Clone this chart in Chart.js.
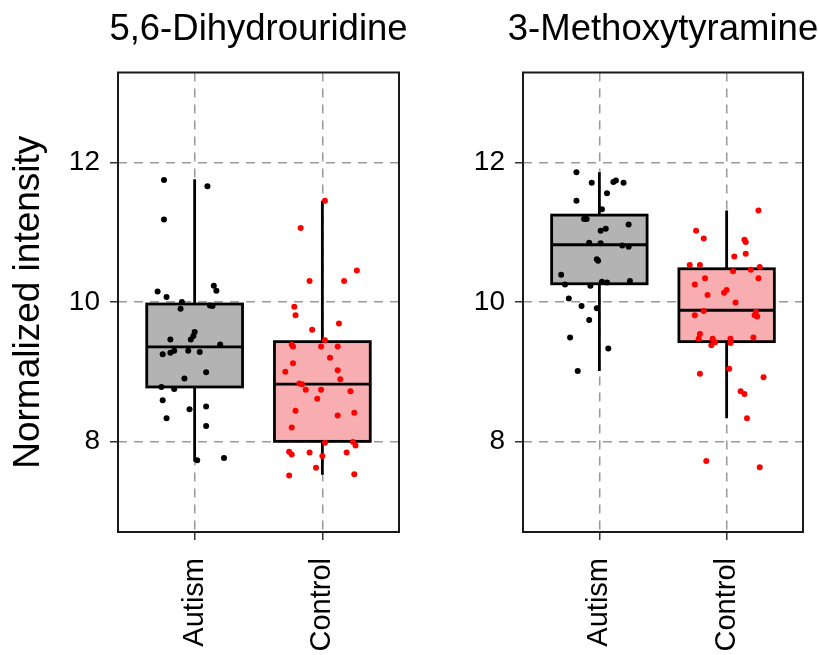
<!DOCTYPE html>
<html>
<head>
<meta charset="utf-8">
<title>Normalized intensity: Autism vs Control</title>
<script src="https://cdn.jsdelivr.net/npm/chart.js@4"></script>
<style>
  body { margin: 0; background: #fff; }
  #wrap { position: relative; width: 819px; height: 655px; }
  canvas { position: absolute; top: 0; }
</style>
</head>
<body>
<div id="wrap">
  <canvas id="dhuChart" width="410" height="655" style="left:0"></canvas>
  <canvas id="mtChart" width="409" height="655" style="left:410px"></canvas>
</div>
<script>
// Groups and tick values
const groups = ['Autism', 'Control'];
const yTicks = [8, 10, 12];

// 5,6-Dihydrouridine: points (value + horizontal jitter)
const dhuAutism = [11.75, 11.66, 11.18, 10.15, 10.07, 10.23, 10.16, 10.00, 9.90, 9.95, 9.94, 9.57, 9.51, 9.46, 9.46, 9.39,
  9.30, 9.27, 9.25, 9.30, 9.28, 8.99, 8.90, 8.78, 8.75, 8.59, 8.46, 8.50, 8.33, 8.22, 7.73, 7.76];
const dhuAutismJitter = [-0.24, 0.10, -0.24, -0.29, -0.22, 0.15, 0.17, -0.10, -0.11, 0.12, 0.14, 0.00, -0.01, -0.03, -0.19, 0.20,
  -0.16, -0.19, -0.25, -0.05, 0.04, 0.09, -0.08, -0.26, -0.16, -0.25, -0.04, 0.09, -0.22, 0.09, 0.02, 0.23];
const dhuControl = [11.45, 11.06, 10.45, 10.30, 10.30, 9.93, 9.81, 9.69, 9.60, 9.45, 9.39, 9.36, 9.36, 9.36, 9.20, 9.12,
  9.00, 9.02, 8.89, 8.83, 8.82, 8.74, 8.74, 8.72, 8.61, 8.44, 8.41, 8.37, 8.20, 7.98, 7.99, 7.94, 7.85, 7.81, 7.84, 7.79,
  7.84, 7.62, 7.51, 7.53];
const dhuControlJitter = [0.02, -0.17, 0.27, -0.10, 0.17, -0.22, -0.21, 0.13, -0.08, 0.02, -0.24, -0.23, -0.01, 0.12, 0.06, -0.23,
  -0.29, 0.12, 0.14, -0.18, -0.16, -0.13, -0.01, 0.22, -0.04, -0.21, 0.25, 0.12, -0.24, 0.02, 0.24, 0.26, -0.26, -0.24, -0.10, 0.00,
  0.19, -0.05, -0.26, 0.25];

// 5,6-Dihydrouridine: box statistics [Autism, Control]
const dhuLow = [7.71, 7.52];
const dhuQ1 = [8.78, 8.00];
const dhuMedian = [9.355, 8.82];
const dhuQ3 = [9.97, 9.43];
const dhuHigh = [11.76, 11.45];

// 3-Methoxytyramine: points
const mtAutism = [11.86, 11.71, 11.72, 11.74, 11.71, 11.56, 11.45, 11.33, 11.19, 11.19, 11.11, 11.05, 11.02, 10.85, 10.84, 10.81,
  10.79, 10.61, 10.59, 10.39, 10.25, 10.23, 10.29, 10.28, 10.30, 10.05, 9.94, 9.91, 9.74, 9.49, 9.33, 9.01];
const mtAutismJitter = [-0.18, -0.06, 0.11, 0.13, 0.19, 0.06, -0.18, 0.02, -0.12, -0.10, 0.23, 0.05, 0.01, -0.08, 0.01, 0.18,
  0.23, -0.02, -0.01, -0.30, -0.27, -0.07, 0.02, 0.06, 0.24, -0.24, -0.14, -0.02, -0.08, -0.23, 0.07, -0.17];
const mtControl = [11.31, 11.02, 10.91, 10.89, 10.86, 10.69, 10.65, 10.53, 10.53, 10.50, 10.46, 10.44, 10.34, 10.34, 10.25, 10.17,
  10.13, 10.10, 9.99, 9.87, 9.81, 9.86, 9.81, 9.79, 9.54, 9.47, 9.47, 9.42, 9.38, 9.47, 9.41, 9.49, 9.04, 8.97, 8.92, 8.72,
  8.68, 8.33, 7.72, 7.63];
const mtControlJitter = [0.25, -0.24, -0.18, 0.14, 0.15, 0.15, 0.06, -0.29, -0.21, 0.26, 0.19, 0.05, -0.17, 0.25, -0.25, 0.00,
  -0.02, -0.15, 0.07, -0.18, -0.25, 0.23, 0.22, 0.24, -0.21, -0.22, -0.11, -0.09, -0.12, 0.03, 0.03, 0.21, 0.02, -0.21, 0.29, 0.11,
  0.14, 0.16, -0.16, 0.26];

// 3-Methoxytyramine: box statistics [Autism, Control]
const mtLow = [9.01, 8.33];
const mtQ1 = [10.26, 9.43];
const mtMedian = [10.82, 9.88];
const mtQ3 = [11.245, 10.475];
const mtHigh = [11.86, 11.31];

const fontFamily = '"Liberation Sans", Arial, Helvetica, sans-serif';
Chart.defaults.font.family = fontFamily;
Chart.defaults.color = '#000';

const boxFill = ['#b3b3b3', '#f8aeb1'];
const pointColor = ['#000000', '#ff0000'];
const boxHalf = 0.375;

// draws boxes, whiskers and the frame under the jittered points
function boxPlugin(stats) {
    return {
        id: 'boxes',
        beforeDatasetsDraw(chart) {
            const {ctx, chartArea, scales: {x, y}} = chart;
            ctx.save();
            ctx.strokeStyle = '#000';
            ctx.lineWidth = 2.8;
            stats.median.forEach((m, i) => {
                const cx = x.getPixelForValue(i + 1);
                const left = x.getPixelForValue(i + 1 - boxHalf);
                const right = x.getPixelForValue(i + 1 + boxHalf);
                const yLow = y.getPixelForValue(stats.low[i]);
                const yQ1 = y.getPixelForValue(stats.q1[i]);
                const yMed = y.getPixelForValue(m);
                const yQ3 = y.getPixelForValue(stats.q3[i]);
                const yHigh = y.getPixelForValue(stats.high[i]);

                ctx.beginPath();
                ctx.moveTo(cx, yQ3);
                ctx.lineTo(cx, yHigh);
                ctx.moveTo(cx, yQ1);
                ctx.lineTo(cx, yLow);
                ctx.stroke();

                ctx.fillStyle = boxFill[i];
                ctx.fillRect(left, yQ3, right - left, yQ1 - yQ3);
                ctx.strokeRect(left, yQ3, right - left, yQ1 - yQ3);

                ctx.beginPath();
                ctx.moveTo(left, yMed);
                ctx.lineTo(right, yMed);
                ctx.stroke();
            });
            ctx.lineWidth = 2;
            ctx.strokeStyle = '#1a1a1a';
            ctx.strokeRect(chartArea.left, chartArea.top, chartArea.width, chartArea.height);
            ctx.restore();
        }
    };
}

// panel title centred over the plot area (the built-in title squeezes wide text)
const panelTitle = {
    id: 'panelTitle',
    afterDraw(chart, args, opts) {
        const {ctx, chartArea} = chart;
        ctx.save();
        ctx.font = '36.5px ' + fontFamily;
        ctx.fillStyle = '#000';
        ctx.textAlign = 'center';
        ctx.textBaseline = 'middle';
        ctx.fillText(opts.text, (chartArea.left + chartArea.right) / 2, 30);
        ctx.restore();
    }
};

function makePanel(canvasId, title, series, jitters, stats, yWidth, padRight, showYTitle) {
    const datasets = series.map((vals, i) => ({
        data: vals.map((v, k) => ({x: i + 1 + jitters[i][k], y: v})),
        backgroundColor: pointColor[i],
        borderWidth: 0,
        pointRadius: 3,
        pointHoverRadius: 3
    }));

    return new Chart(document.getElementById(canvasId), {
        type: 'scatter',
        data: { datasets: datasets },
        options: {
            responsive: false,
            animation: false,
            layout: { padding: { left: 0, right: padRight, top: 72.5, bottom: 0 } },
            plugins: {
                legend: { display: false },
                tooltip: { enabled: false },
                title: { display: false },
                panelTitle: { text: title }
            },
            scales: {
                x: {
                    type: 'linear',
                    min: 0.4,
                    max: 2.6,
                    afterBuildTicks: s => { s.ticks = groups.map((g, i) => ({ value: i + 1 })); },
                    afterFit: s => { s.height = 123; },
                    ticks: {
                        callback: v => groups[v - 1],
                        autoSkip: false,
                        minRotation: 90,
                        maxRotation: 90,
                        padding: 18,
                        color: '#000',
                        font: { size: 29 }
                    },
                    grid: { color: '#999', lineWidth: 1.5, tickLength: 8, tickColor: '#333', tickWidth: 1.5, tickBorderDash: [] },
                    border: { display: false, dash: [9, 7] }
                },
                y: {
                    type: 'linear',
                    min: 6.7,
                    max: 13.29,
                    afterBuildTicks: s => { s.ticks = yTicks.map(v => ({ value: v })); },
                    afterFit: s => { s.width = yWidth; },
                    ticks: { padding: 10, color: '#000', font: { size: 28 } },
                    grid: { color: '#999', lineWidth: 1.5, tickLength: 8, tickColor: '#333', tickWidth: 1.5, tickBorderDash: [] },
                    border: { display: false, dash: [9, 7] },
                    title: {
                        display: showYTitle,
                        text: 'Normalized intensity',
                        color: '#000',
                        font: { size: 37 },
                        padding: { top: 6.5, bottom: 0 }
                    }
                }
            }
        },
        plugins: [boxPlugin(stats), panelTitle]
    });
}

makePanel('dhuChart', '5,6-Dihydrouridine',
    [dhuAutism, dhuControl], [dhuAutismJitter, dhuControlJitter],
    { low: dhuLow, q1: dhuQ1, median: dhuMedian, q3: dhuQ3, high: dhuHigh },
    118, 11, true);

makePanel('mtChart', '3-Methoxytyramine',
    [mtAutism, mtControl], [mtAutismJitter, mtControlJitter],
    { low: mtLow, q1: mtQ1, median: mtMedian, q3: mtQ3, high: mtHigh },
    113, 16, false);
</script>
</body>
</html>
